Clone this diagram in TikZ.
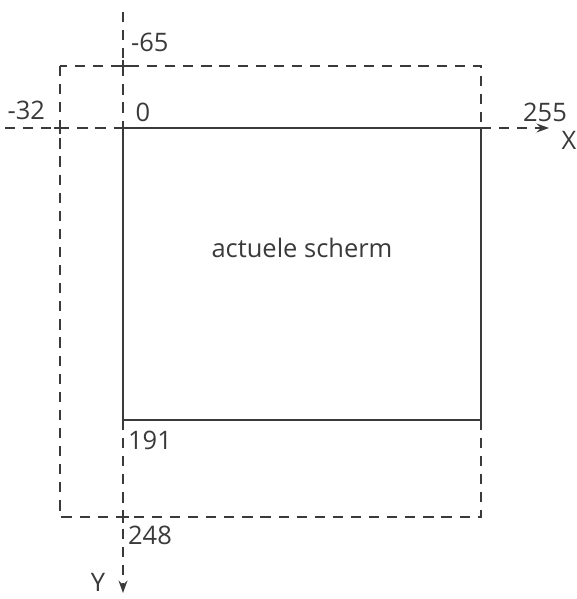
\documentclass[tikz,border=0pt]{standalone}
\usepackage{fontspec}
\setmainfont{Open Sans}
\usetikzlibrary{arrows.meta}

\definecolor{ink}{HTML}{3A3A3A}

\tikzset{
  solidline/.style={draw=ink, line width=1.2pt},
  dashline/.style={draw=ink, line width=1.2pt, dash pattern=on 5.8pt off 4.5pt},
  axisline/.style={dashline, -{Stealth[length=7pt,width=5pt]}},
  tick/.style={draw=ink, line width=1.2pt},
  lbl/.style={text=ink, inner sep=1pt, font=\fontsize{14.5}{16}\selectfont}
}

\begin{document}
\begin{tikzpicture}[x=0.02cm, y=-0.02cm]
    % Picture size in pixels of the original scan
    \useasboundingbox (0,0) rectangle (577,599);

    % Corners of the visible screen and of the full area
    \coordinate (origin) at (123,128);
    \coordinate (scrbr) at (481,420);
    \coordinate (fulltl) at (60,66);
    \coordinate (fullbr) at (481,517);

    % Axis ends
    \coordinate (xstart) at (5,128);
    \coordinate (xend) at (549,128);
    \coordinate (ystart) at (123,12);
    \coordinate (yend) at (123,593);
    \coordinate (ybot) at (123,420);

    % Full (dashed) area
    \draw[dashline] (fulltl) rectangle (fullbr);

    % Actual screen
    \draw[solidline] (origin) rectangle (scrbr);

    % Axes
    \draw[dashline] (xstart) -- (origin);
    \draw[axisline] (scrbr |- origin) -- (xend);
    \draw[dashline] (ystart) -- (origin);
    \draw[axisline] (ybot) -- (yend);

    % Crossings
    \foreach \p in {(60,128),(123,66),(123,517)}
        \draw[tick] \p ++(-6,0) -- ++(12,0) \p ++(0,-6) -- ++(0,12);

    % Labels
    \node[lbl, anchor=west] (lblmin65) at (129,42) {-65};
    \node[lbl, anchor=east] (lblmin32) at (47,110) {-32};
    \node[lbl] (lblzero) at (143,112) {0};
    \node[lbl] (lbl255) at (545,112) {255};
    \node[lbl] (lblx) at (569,140) {X};
    \node[lbl, anchor=west] (lbl191) at (126,440) {191};
    \node[lbl, anchor=west] (lbl248) at (126,535) {248};
    \node[lbl] (lbly) at (98,582) {Y};
    \node[lbl] (screen) at (302,248) {actuele scherm};
\end{tikzpicture}
\end{document}
